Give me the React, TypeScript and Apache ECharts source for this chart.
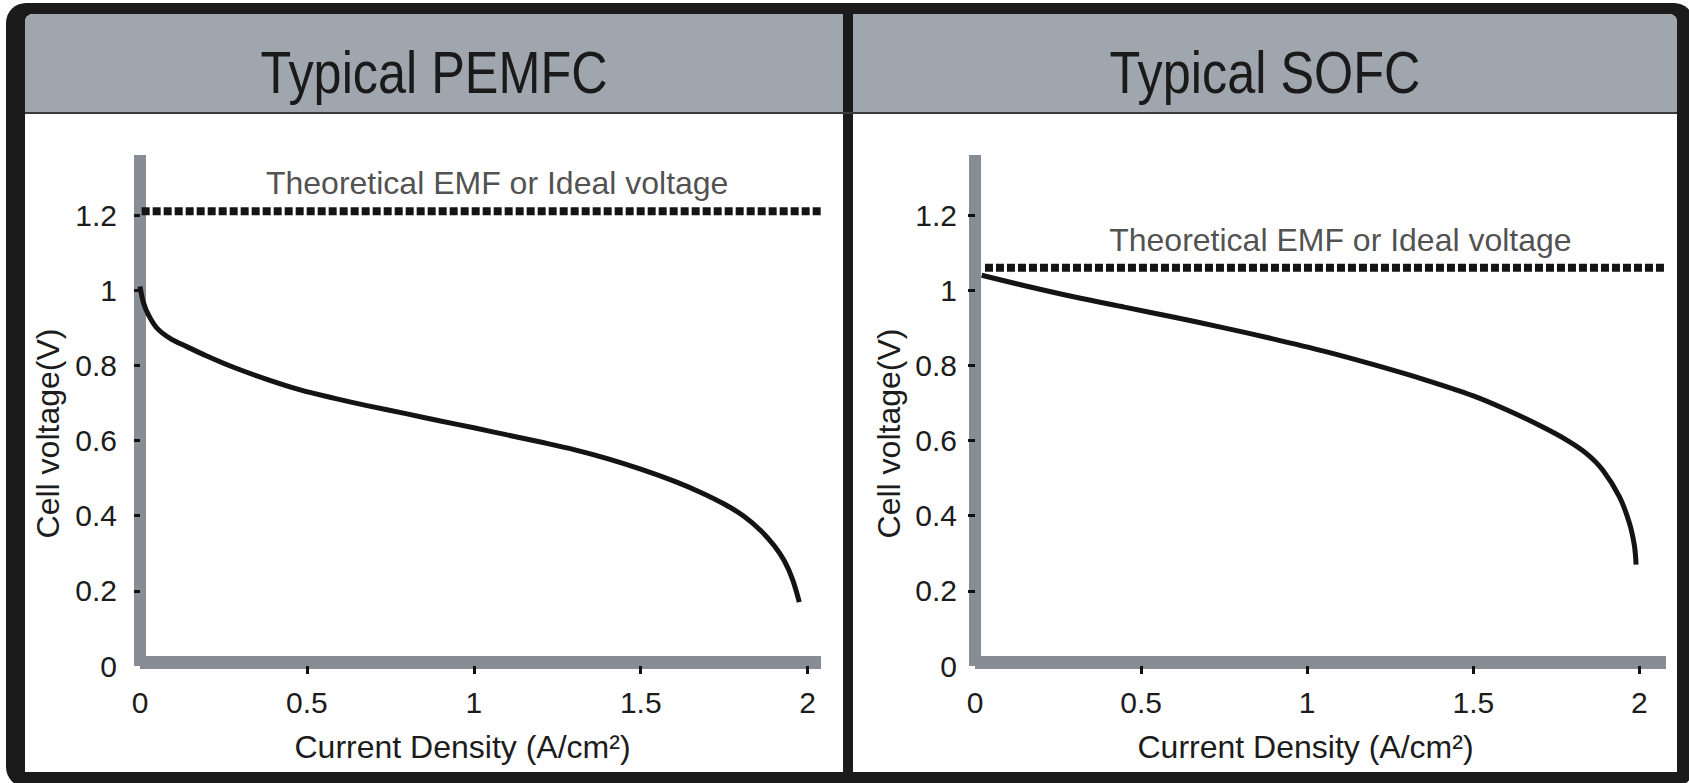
import React, { useEffect, useRef } from "react";
import * as echarts from "echarts";

// ---- texts ----
const panelTitles = ["Typical PEMFC", "Typical SOFC"];
const xAxisName = "Current Density (A/cm²)";
const yAxisName = "Cell voltage(V)";
const emfLabel = "Theoretical EMF or Ideal voltage";

// ---- ticks ----
const xTickValues = [0.5, 1, 1.5, 2];
const xLabelValues = [0, 0.5, 1, 1.5, 2];
const yTickValues = [0.2, 0.4, 0.6, 0.8, 1, 1.2];
const yLabelValues = [0, 0.2, 0.4, 0.6, 0.8, 1, 1.2];
const yMax = 1.36;
const xMaxes = [2.04, 2.08];

// ---- PEMFC polarization curve ----
const pemfcCurrent = [0, 0.01, 0.025, 0.05, 0.09, 0.14, 0.2, 0.28, 0.38, 0.48, 0.58, 0.68, 0.8, 0.9, 1.0, 1.1, 1.2, 1.3, 1.4, 1.5, 1.6, 1.68, 1.75, 1.81, 1.86, 1.9, 1.93, 1.955, 1.975];
const pemfcVoltage = [1.01, 0.968, 0.935, 0.9, 0.872, 0.85, 0.825, 0.795, 0.763, 0.735, 0.713, 0.693, 0.671, 0.652, 0.634, 0.615, 0.596, 0.576, 0.552, 0.524, 0.492, 0.462, 0.431, 0.398, 0.36, 0.32, 0.28, 0.23, 0.17];

// ---- SOFC polarization curve ----
const sofcCurrent = [0.02, 0.15, 0.3, 0.45, 0.6, 0.75, 0.9, 1.05, 1.2, 1.35, 1.5, 1.6, 1.7, 1.78, 1.84, 1.89, 1.94, 1.97, 1.985, 1.99];
const sofcVoltage = [1.04, 1.012, 0.982, 0.955, 0.928, 0.9, 0.87, 0.838, 0.802, 0.763, 0.719, 0.682, 0.64, 0.602, 0.566, 0.521, 0.45, 0.38, 0.32, 0.27];

// ---- theoretical EMF lines ----
const emfVoltage = [1.21, 1.06];
const emfStart = [0.005, 0.03];
const emfEnd = [2.04, 2.08];
const emfLabelAt = [1.07, 1.1];

const FONT = "'Liberation Sans', Arial, Helvetica, sans-serif";
const TEXT = "#1c1c1c";
const AXIS_GRAY = "#878d94";
const HEADER_GRAY = "#a0a6ad";

const grids = [
  { left: 140, top: 155, width: 681, height: 511 },
  { left: 975, top: 155, width: 691, height: 511 },
];
const yBarOffset = [6, 0];
const yTickOffset = [12, 7];
const yTickLen = [6, 7];
const xNamePad = [36, 30];
const titleCenters = [434, 1265];

export default function App() {
  const ref = useRef<HTMLDivElement>(null);

  useEffect(() => {
    if (!ref.current) return;
    const chart = echarts.init(ref.current, undefined, { renderer: "svg" });

    const xAxis: any[] = [];
    const yAxis: any[] = [];
    const series: any[] = [];

    [0, 1].forEach((g) => {
      xAxis.push({
        gridIndex: g, type: "value", position: "bottom", min: 0, max: xMaxes[g], offset: -4,
        axisLine: { show: true, lineStyle: { color: AXIS_GRAY, width: 13, cap: "butt" } },
        axisTick: { show: false }, axisLabel: { show: false }, splitLine: { show: false },
      });
      xAxis.push({
        gridIndex: g, type: "value", position: "bottom", min: 0, max: xMaxes[g], offset: 2,
        axisLine: { show: false },
        axisTick: { show: true, customValues: xTickValues, length: 8, lineStyle: { color: "#111", width: 3 } },
        axisLabel: { show: true, customValues: xLabelValues, margin: 19, fontSize: 30, color: TEXT, fontFamily: FONT },
        splitLine: { show: false },
        name: xAxisName, nameLocation: "middle", nameGap: 63,
        nameTextStyle: { fontSize: 32, color: TEXT, fontFamily: FONT, padding: [0, xNamePad[g], 0, 0] },
      });
      yAxis.push({
        gridIndex: g, type: "value", position: "left", min: 0, max: yMax, offset: yBarOffset[g],
        axisLine: { show: true, lineStyle: { color: AXIS_GRAY, width: 12, cap: "butt" } },
        axisTick: { show: false }, axisLabel: { show: false }, splitLine: { show: false },
        name: yAxisName, nameLocation: "middle", nameGap: 70,
        nameTextStyle: { fontSize: 32, color: TEXT, fontFamily: FONT, padding: [0, 46, 0, 0] },
      });
      yAxis.push({
        gridIndex: g, type: "value", position: "left", min: 0, max: yMax, offset: yTickOffset[g],
        axisLine: { show: false },
        axisTick: { show: true, customValues: yTickValues, length: yTickLen[g], lineStyle: { color: "#111", width: 3 } },
        axisLabel: { show: true, customValues: yLabelValues, margin: 11, fontSize: 30, color: TEXT, fontFamily: FONT },
        splitLine: { show: false },
      });
    });

    const curves = [
      pemfcCurrent.map((x, i) => [x, pemfcVoltage[i]]),
      sofcCurrent.map((x, i) => [x, sofcVoltage[i]]),
    ];

    [0, 1].forEach((g) => {
      series.push({
        type: "line", name: panelTitles[g], xAxisIndex: g * 2, yAxisIndex: g * 2,
        data: curves[g], showSymbol: false, symbol: "none", smooth: 0.3,
        lineStyle: { color: "#141414", width: 5 }, z: 5,
      });
      series.push({
        type: "line", name: emfLabel, xAxisIndex: g * 2, yAxisIndex: g * 2,
        data: [[emfStart[g], emfVoltage[g]], [emfEnd[g], emfVoltage[g]]],
        symbol: "none", lineStyle: { color: "#141414", width: 8, type: [8, 3], cap: "butt" }, z: 4,
      });
      series.push({
        type: "scatter", xAxisIndex: g * 2, yAxisIndex: g * 2, silent: true,
        data: [[emfLabelAt[g], emfVoltage[g]]], symbolSize: 1,
        itemStyle: { color: "rgba(0,0,0,0)" },
        label: { show: true, position: "top", distance: g === 0 ? 12 : 11, formatter: emfLabel, fontSize: 32, color: "#222", fontFamily: FONT },
      });
    });

    chart.setOption({
      animation: false,
      backgroundColor: "#ffffff",
      graphic: [
        { type: "rect", z: -20, silent: true, shape: { x: 6, y: 3, width: 1688, height: 784, r: 20 }, style: { fill: "#1b1b1b" } },
        { type: "rect", z: -19, silent: true, shape: { x: 25, y: 14, width: 818, height: 758, r: [8, 0, 0, 0] }, style: { fill: "#ffffff" } },
        { type: "rect", z: -19, silent: true, shape: { x: 853, y: 14, width: 824, height: 758, r: [0, 8, 0, 0] }, style: { fill: "#ffffff" } },
        { type: "rect", z: -18, silent: true, shape: { x: 25, y: 14, width: 818, height: 98, r: [8, 0, 0, 0] }, style: { fill: HEADER_GRAY } },
        { type: "rect", z: -18, silent: true, shape: { x: 853, y: 14, width: 824, height: 98, r: [0, 8, 0, 0] }, style: { fill: HEADER_GRAY } },
        { type: "line", z: -17, silent: true, shape: { x1: 25, y1: 113, x2: 1677, y2: 113 }, style: { stroke: "#3a3a3a", lineWidth: 2 } },
        ...panelTitles.map((t, g) => ({
          type: "text", z: 10, silent: true, x: titleCenters[g], y: 72, scaleX: 0.84,
          style: {
            text: t, fontSize: 60, fontFamily: FONT, fill: "#1a1a1a",
            align: "center", verticalAlign: "middle", textAlign: "center", textVerticalAlign: "middle",
          },
        })),
      ],
      grid: grids,
      xAxis,
      yAxis,
      series,
    });

    return () => chart.dispose();
  }, []);

  return (
    <div
      ref={ref}
      style={{ position: "absolute", left: 0, top: 0, width: 1689, height: 783, background: "#fff" }}
    />
  );
}
